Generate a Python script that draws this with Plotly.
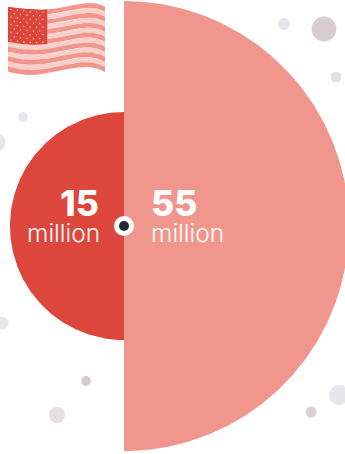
import numpy as np
import plotly.graph_objects as go

# Values shown by the two half discs, in millions
labels = ["15", "55"]
values = [15, 55]
sides = [-1, 1]
disc_colors = ["#DC463C", "#F1968C"]

# Background bubbles: x, y, diameter, colour
bubble_x = [284, 324, 336, 23, -4, 2, 86, 57, 339, 311]
bubble_y = [24, 29, 77, 117, 142, 323, 381, 415, 395, 412]
bubble_size = [12, 25, 11, 10, 19, 13, 10, 16, 20, 11]
bubble_color = ["#E6E6EC", "#D9CDD2", "#E6E1E6", "#E6E6EC", "#E6E6EC",
                "#E6E6EC", "#D9CDD2", "#E8E0E0", "#E6E6EC", "#DCCFD4"]

W, H = 345, 454
CX, CY = 124, 226
MAX_R, EXPONENT = 225, 0.523

fig = go.Figure()

for x, y, s, c in zip(bubble_x, bubble_y, bubble_size, bubble_color):
    fig.add_trace(go.Scatter(x=[x], y=[y], mode="markers",
                             marker=dict(size=s, color=c, line=dict(width=0)),
                             hoverinfo="skip", showlegend=False))

# Half discs, radius scaled from the value
for value, side, color in zip(values, sides, disc_colors):
    r = MAX_R * (value / max(values)) ** EXPONENT
    t = np.linspace(-np.pi / 2, np.pi / 2, 240)
    fig.add_trace(go.Scatter(x=CX + side * r * np.cos(t), y=CY + r * np.sin(t),
                             mode="lines", fill="toself", fillcolor=color,
                             line=dict(width=0), hoverinfo="skip", showlegend=False))

# Waving flag: top and bottom edges through a few control points
flag_x = np.linspace(8, 105, 80)
top_edge = np.polyval(np.polyfit([8, 28, 47, 66, 85, 105], [7, 9, 9.7, 6.5, 3.3, 6.7], 4), flag_x)
bot_edge = np.polyval(np.polyfit([8, 30, 50, 68, 85, 105], [71.5, 75, 73, 69, 67, 72], 4), flag_x)
BANDS = 13
for i in range(BANDS):
    y0 = top_edge + (bot_edge - top_edge) * i / BANDS
    y1 = top_edge + (bot_edge - top_edge) * (i + 1) / BANDS
    fig.add_trace(go.Scatter(x=np.r_[flag_x, flag_x[::-1]], y=np.r_[y0, y1[::-1]],
                             mode="lines", fill="toself",
                             fillcolor="#F1968C" if i % 2 == 0 else "#F8CFCB",
                             line=dict(width=0), hoverinfo="skip", showlegend=False))

# Canton with its rows of stars
cx = flag_x[flag_x <= 47.5]
ct = np.interp(cx, flag_x, top_edge)
cb = np.interp(cx, flag_x, top_edge + (bot_edge - top_edge) * 7 / BANDS)
fig.add_trace(go.Scatter(x=np.r_[cx, cx[::-1]], y=np.r_[ct, cb[::-1]],
                         mode="lines", fill="toself", fillcolor="#DC463C",
                         line=dict(width=0), hoverinfo="skip", showlegend=False))
star_x, star_y = [], []
for row in range(9):
    frac = (row + 0.6) / 9.2
    for col in range(7):
        sx = 11 + col * 6.4 + (3.2 if row % 2 else 0)
        if sx > 45.5:
            continue
        star_x.append(sx)
        star_y.append(np.interp(sx, cx, ct + (cb - ct) * frac))
fig.add_trace(go.Scatter(x=star_x, y=star_y, mode="markers",
                         marker=dict(size=1.6, color="#F3B3AD", line=dict(width=0)),
                         hoverinfo="skip", showlegend=False))

# Centre hub
fig.add_trace(go.Scatter(x=[CX], y=[CY], mode="markers",
                         marker=dict(size=20, color="white", line=dict(width=0)),
                         hoverinfo="skip", showlegend=False))
fig.add_trace(go.Scatter(x=[CX], y=[CY], mode="markers",
                         marker=dict(size=10, color="#222A33", line=dict(width=0)),
                         hoverinfo="skip", showlegend=False))

# Value labels
for label, xnum, xunit, anchor in zip(labels, [101, 149], [102, 148.5], ["right", "left"]):
    fig.add_annotation(x=xnum, y=203, text=label, showarrow=False, xanchor=anchor,
                       yanchor="middle",
                       font=dict(family="Inter", size=35.5, color="white", weight=800))
    fig.add_annotation(x=xunit, y=233, text="million", showarrow=False, xanchor=anchor,
                       yanchor="middle",
                       font=dict(family="Inter", size=24.5, color="white", weight=300))

fig.update_layout(width=W, height=H, margin=dict(l=0, r=0, t=0, b=0),
                  paper_bgcolor="white", plot_bgcolor="white", showlegend=False,
                  xaxis=dict(range=[0, W], visible=False, fixedrange=True),
                  yaxis=dict(range=[H, 0], visible=False, fixedrange=True))
fig.write_html("out.html", config=dict(displayModeBar=False))
